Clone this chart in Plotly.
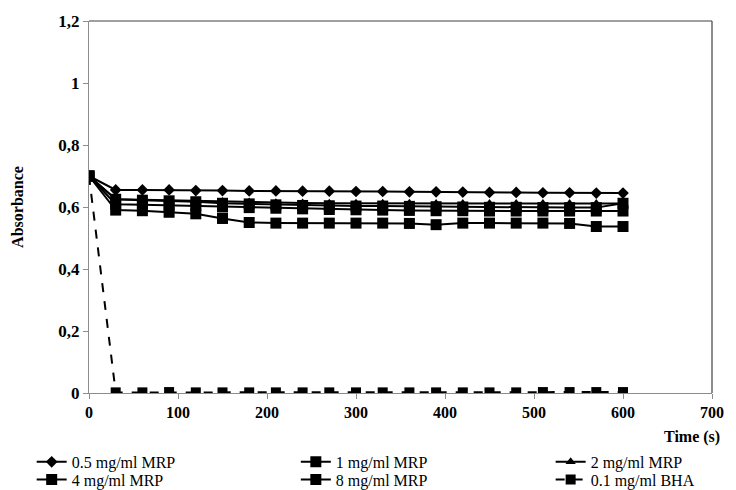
import plotly.graph_objects as go

time_s = [0, 30, 60, 90, 120, 150, 180, 210, 240, 270, 300, 330, 360, 390, 420, 450, 480, 510, 540, 570, 600]

mrp_05 = [0.700, 0.655, 0.655, 0.655, 0.653, 0.653, 0.652, 0.652, 0.651, 0.651, 0.650,
          0.650, 0.649, 0.649, 0.648, 0.647, 0.647, 0.646, 0.646, 0.645, 0.645]
mrp_1 = [0.700, 0.625, 0.622, 0.620, 0.617, 0.612, 0.610, 0.607, 0.605, 0.604, 0.603,
         0.603, 0.602, 0.601, 0.600, 0.599, 0.599, 0.598, 0.598, 0.598, 0.612]
mrp_2 = [0.700, 0.625, 0.623, 0.621, 0.620, 0.618, 0.616, 0.614, 0.613, 0.612, 0.612,
         0.612, 0.612, 0.611, 0.611, 0.611, 0.611, 0.611, 0.611, 0.611, 0.611]
mrp_4 = [0.700, 0.609, 0.607, 0.605, 0.603, 0.600, 0.598, 0.596, 0.594, 0.592, 0.591,
         0.590, 0.589, 0.588, 0.588, 0.587, 0.587, 0.587, 0.587, 0.587, 0.587]
mrp_8 = [0.700, 0.590, 0.588, 0.583, 0.578, 0.563, 0.550, 0.548, 0.548, 0.548, 0.548,
         0.548, 0.547, 0.543, 0.548, 0.548, 0.548, 0.548, 0.547, 0.537, 0.537]
bha_01 = [0.700, 0.002, 0.002, 0.003, 0.002, 0.002, 0.002, 0.002, 0.002, 0.002, 0.002,
          0.002, 0.002, 0.002, 0.002, 0.002, 0.002, 0.003, 0.003, 0.003, 0.003]

y_ticks = [0, 0.2, 0.4, 0.6, 0.8, 1.0, 1.2]
y_tick_labels = ["0", "0,2", "0,4", "0,6", "0,8", "1", "1,2"]
x_ticks = [0, 100, 200, 300, 400, 500, 600, 700]

FONT = "Liberation Serif"

series = [
    ("0.5 mg/ml MRP", mrp_05, "diamond", 9, "solid", "legend"),
    ("1 mg/ml MRP", mrp_1, "square", 11, "solid", "legend2"),
    ("2 mg/ml MRP", mrp_2, "triangle-up", 9, "solid", "legend3"),
    ("4 mg/ml MRP", mrp_4, "square", 11, "solid", "legend4"),
    ("8 mg/ml MRP", mrp_8, "square", 11, "solid", "legend5"),
    ("0.1 mg/ml BHA", bha_01, "square", 10, "dash", "legend6"),
]

fig = go.Figure()
for name, vals, sym, size, dash, leg in series:
    fig.add_trace(go.Scatter(
        x=time_s, y=vals, name=name, mode="lines+markers",
        line=dict(color="black", width=2, dash=dash),
        marker=dict(symbol=sym, size=size, color="black"),
        legend=leg, showlegend=True,
    ))

def leg(x, y):
    return dict(x=x, y=y, xref="paper", yref="container",
                orientation="v", yanchor="top", xanchor="left",
                font=dict(family=FONT, size=16, color="black"),
                bgcolor="rgba(0,0,0,0)", itemwidth=30)

row1, row2 = 0.092, 0.056
c1, c2, c3 = -0.092, 0.332, 0.741

fig.update_layout(
    width=736, height=490,
    showlegend=True,
    margin=dict(l=89, r=18, t=21, b=97),
    paper_bgcolor="white", plot_bgcolor="white",
    font=dict(family=FONT, color="black"),
    xaxis=dict(range=[0, 700], tickvals=x_ticks, showgrid=False, zeroline=False,
               showline=True, linecolor="#8c8c8c", linewidth=1,
               ticks="outside", ticklen=5, tickcolor="#8c8c8c",
               tickfont=dict(family=FONT, size=16, color="black", weight="bold")),
    yaxis=dict(range=[0, 1.2], tickvals=y_ticks, ticktext=y_tick_labels,
               showgrid=False, zeroline=False,
               showline=True, linecolor="#8c8c8c", linewidth=1,
               ticks="outside", ticklen=5, tickcolor="#8c8c8c",
               tickfont=dict(family=FONT, size=17, color="black", weight="bold"),
               title=dict(text="Absorbance", standoff=30,
                          font=dict(family=FONT, size=16, color="black", weight="bold"))),
    legend=leg(c1, row1),
    legend2=leg(c2, row1),
    legend3=leg(c3, row1),
    legend4=leg(c1, row2),
    legend5=leg(c2, row2),
    legend6=leg(c3, row2),
    shapes=[
        dict(type="line", xref="paper", yref="paper", x0=0, x1=1, y0=1, y1=1,
             line=dict(color="#404040", width=1.2)),
        dict(type="line", xref="paper", yref="paper", x0=1, x1=1, y0=0, y1=1,
             line=dict(color="#404040", width=1.2)),
    ],
    annotations=[
        dict(text="Time (s)", xref="paper", yref="paper", x=0.968, y=-0.118,
             xanchor="center", yanchor="middle", showarrow=False,
             font=dict(family=FONT, size=16, color="black", weight="bold")),
    ],
)

fig.write_html("out.html")
